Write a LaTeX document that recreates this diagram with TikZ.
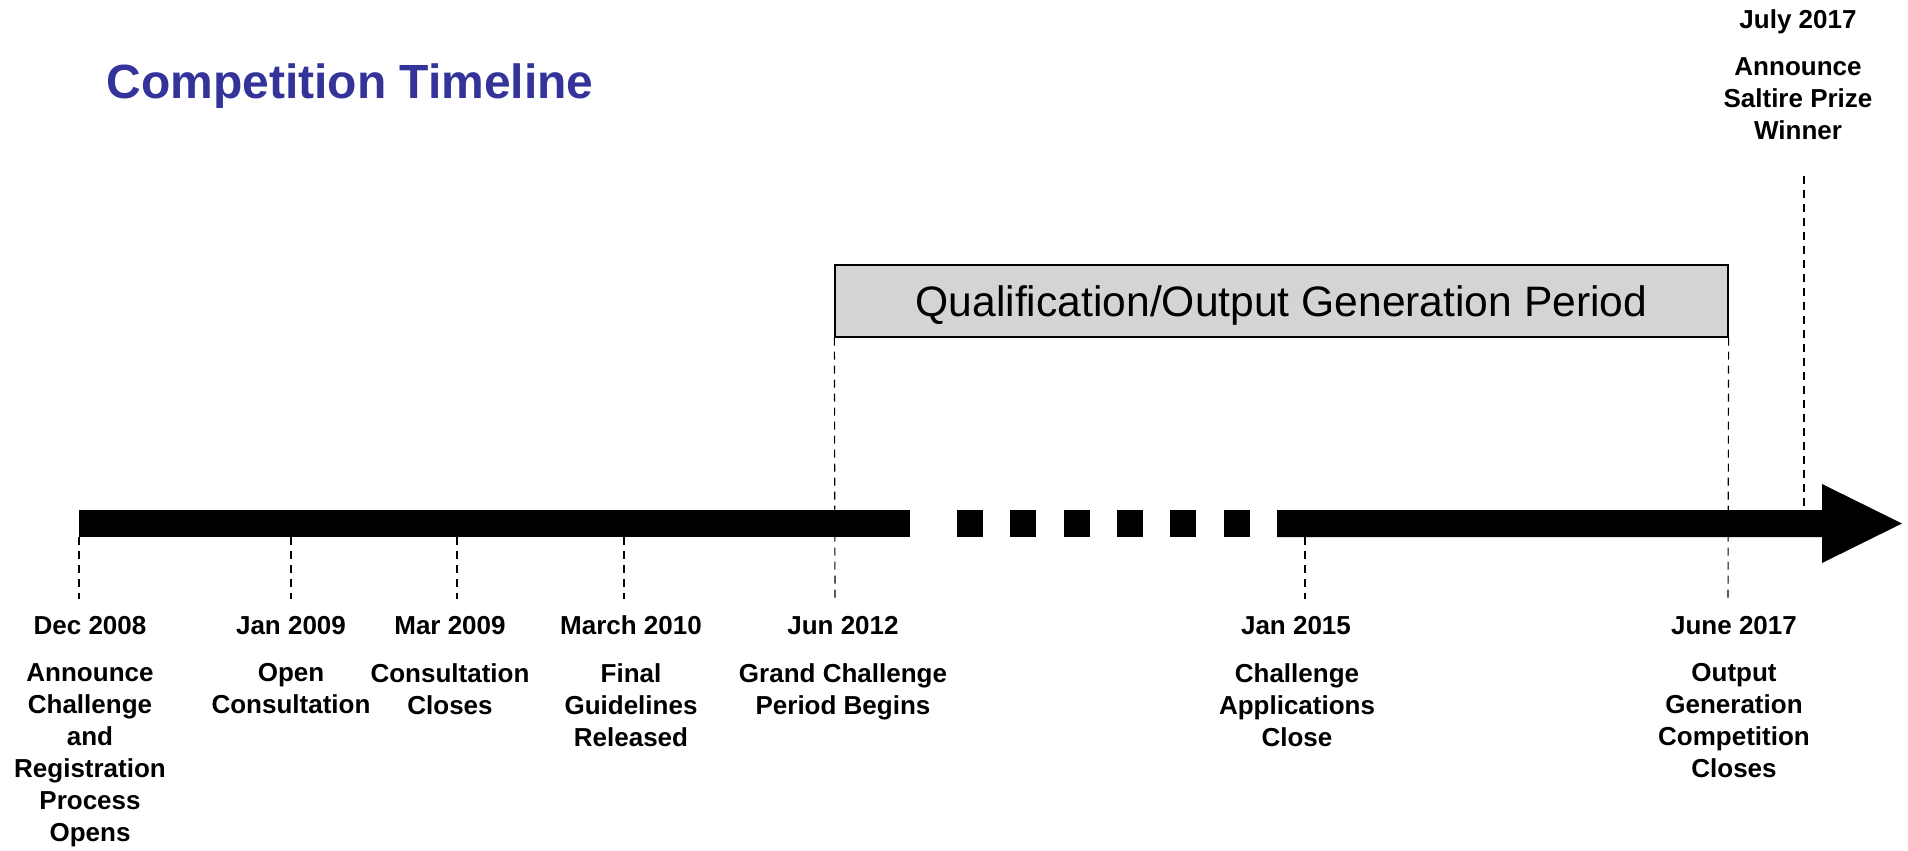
\documentclass[tikz,border=0pt]{standalone}
\usepackage{fontspec}
\setmainfont{Liberation Sans}
\definecolor{titleblue}{RGB}{51,51,153}
\definecolor{periodgray}{RGB}{212,212,212}

\begin{document}
\begin{tikzpicture}[x=0.5pt,y=-0.5pt,
    date/.style={font=\fontsize{13}{16}\selectfont\bfseries,inner sep=0pt,anchor=base},
    desc/.style={font=\fontsize{13}{16}\selectfont\bfseries,inner sep=0pt,
      align=center,anchor=north},
    tick/.style={draw,line width=0.55pt,dash pattern=on 4pt off 3pt},
    period/.style={draw,line width=0.6pt,fill=periodgray,inner sep=0pt,text depth=0pt,
      minimum width=446.5pt,minimum height=36pt,font=\fontsize{21.3}{26}\selectfont}]

    \useasboundingbox (0,0) rectangle (1908,851);

    % the title
    \node[anchor=base west,inner sep=0pt,text=titleblue,
      font=\fontsize{24}{29}\selectfont\bfseries] (title) at (106,98)
      {Competition Timeline};

    % the bar
    \fill (79,510) rectangle (910,537);
    \fill (957,510) rectangle ++(26,27);
    \fill (1010,510) rectangle ++(26,27);
    \fill (1064,510) rectangle ++(26,27);
    \fill (1117,510) rectangle ++(26,27);
    \fill (1170,510) rectangle ++(26,27);
    \fill (1224,510) rectangle ++(26,27);
    \fill (1277,510) -- (1822,510) -- (1822,484) -- (1902,523.5)
      -- (1822,563) -- (1822,537) -- (1277,537) -- cycle;

    % the period box
    \node[period] (qual) at (1281.5,301) {Qualification/Output Generation Period};

    % the texts
    \node[date] (dec08) at (90,634) {Dec 2008};
    \node[date] (jan09) at (291,634) {Jan 2009};
    \node[date] (mar09) at (450,634) {Mar 2009};
    \node[date] (mar10) at (631,634) {March 2010};
    \node[date] (jun12) at (843,634) {Jun 2012};
    \node[date] (jan15) at (1296,634) {Jan 2015};
    \node[date] (jun17) at (1734,634) {June 2017};
    \node[date] (jul17) at (1798,28) {July 2017};

    \node[desc] (dec08-t) at (90,663) {Announce\\Challenge\\and\\Registration\\Process\\Opens};
    \node[desc] (jan09-t) at (291,663) {Open\\Consultation};
    \node[desc] (mar09-t) at (450,663) {Consultation\\Closes};
    \node[desc] (mar10-t) at (631,663) {Final\\Guidelines\\Released};
    \node[desc] (jun12-t) at (843,663) {Grand Challenge\\Period Begins};
    \node[desc] (jan15-t) at (1297,663) {Challenge\\Applications\\Close};
    \node[desc] (jun17-t) at (1734,663) {Output\\Generation\\Competition\\Closes};
    \node[desc] (jul17-t) at (1798,57) {Announce\\Saltire Prize\\Winner};

    % the ticks
    \coordinate (dec08-a) at (79,537);   \coordinate (dec08-b) at (79,599);
    \coordinate (jan09-a) at (291,537);  \coordinate (jan09-b) at (291,599);
    \coordinate (mar09-a) at (457,537);  \coordinate (mar09-b) at (457,599);
    \coordinate (mar10-a) at (624,537);  \coordinate (mar10-b) at (624,599);
    \coordinate (jun12-b) at (835,599);
    \coordinate (jan15-a) at (1305,537); \coordinate (jan15-b) at (1305,599);
    \coordinate (jun17-b) at (1728,599);
    \coordinate (jul17-a) at (1804,176); \coordinate (jul17-b) at (1804,510);

    \draw[tick] (dec08-a) -- (dec08-b);
    \draw[tick] (jan09-a) -- (jan09-b);
    \draw[tick] (mar09-a) -- (mar09-b);
    \draw[tick] (mar10-a) -- (mar10-b);
    \draw[tick] (qual.south west) -- (jun12-b);
    \draw[tick] (jan15-a) -- (jan15-b);
    \draw[tick] (qual.south east) -- (jun17-b);
    \draw[tick] (jul17-a) -- (jul17-b);

  \end{tikzpicture}
\end{document}
